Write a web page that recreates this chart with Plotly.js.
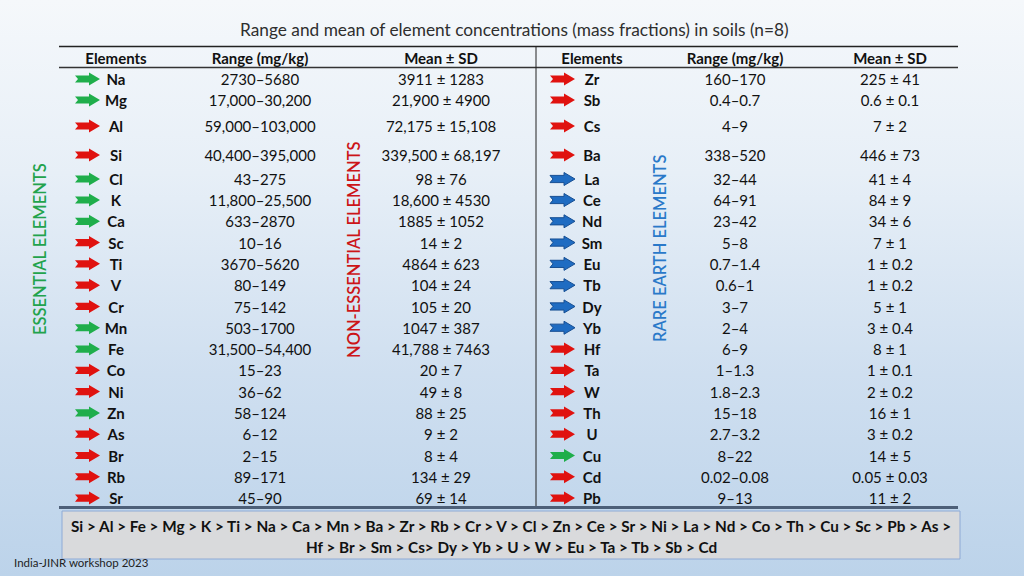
<!DOCTYPE html>
<html>
<head>
<meta charset="utf-8">
<script src="https://cdn.plot.ly/plotly-3.0.1.min.js"></script>
<style>
  html, body { margin: 0; padding: 0; }
  body { width: 1024px; height: 576px; overflow: hidden;
         background: linear-gradient(180deg, #f5f8fb 0%, #e7eff7 30%, #cfdff0 65%, #bcd3ea 100%); }
  #chart { width: 1024px; height: 576px; }
</style>
</head>
<body>
<div id="chart"></div>
<script>
// ---------------- DATA ----------------
const TITLE = 'Range and mean of element concentrations (mass fractions) in soils (n=8)';
const HEADERS = ['Elements', 'Range (mg/kg)', 'Mean ± SD'];

const LEFT_EL = ['Na','Mg','Al','Si','Cl','K','Ca','Sc','Ti','V','Cr','Mn','Fe','Co','Ni','Zn','As','Br','Rb','Sr'];
const LEFT_RANGE = ['2730–5680','17,000–30,200','59,000–103,000','40,400–395,000','43–275','11,800–25,500','633–2870','10–16','3670–5620','80–149','75–142','503–1700','31,500–54,400','15–23','36–62','58–124','6–12','2–15','89–171','45–90'];
const LEFT_MEAN = ['3911 ± 1283','21,900 ± 4900','72,175 ± 15,108','339,500 ± 68,197','98 ± 76','18,600 ± 4530','1885 ± 1052','14 ± 2','4864 ± 623','104 ± 24','105 ± 20','1047 ± 387','41,788 ± 7463','20 ± 7','49 ± 8','88 ± 25','9 ± 2','8 ± 4','134 ± 29','69 ± 14'];
const LEFT_CLASS = ['E','E','N','N','E','E','E','N','N','N','N','E','E','N','N','E','N','N','N','N'];

const RIGHT_EL = ['Zr','Sb','Cs','Ba','La','Ce','Nd','Sm','Eu','Tb','Dy','Yb','Hf','Ta','W','Th','U','Cu','Cd','Pb'];
const RIGHT_RANGE = ['160–170','0.4–0.7','4–9','338–520','32–44','64–91','23–42','5–8','0.7–1.4','0.6–1','3–7','2–4','6–9','1–1.3','1.8–2.3','15–18','2.7–3.2','8–22','0.02–0.08','9–13'];
const RIGHT_MEAN = ['225 ± 41','0.6 ± 0.1','7 ± 2','446 ± 73','41 ± 4','84 ± 9','34 ± 6','7 ± 1','1 ± 0.2','1 ± 0.2','5 ± 1','3 ± 0.4','8 ± 1','1 ± 0.1','2 ± 0.2','16 ± 1','3 ± 0.2','14 ± 5','0.05 ± 0.03','11 ± 2'];
const RIGHT_CLASS = ['N','N','N','N','R','R','R','R','R','R','R','R','N','N','N','N','N','E','N','N'];

const GROUP_LABELS = ['ESSENTIAL ELEMENTS', 'NON-ESSENTIAL ELEMENTS', 'RARE EARTH ELEMENTS'];
const ORDER_LINES = [
  'Si > Al > Fe > Mg > K > Ti > Na > Ca > Mn > Ba > Zr > Rb > Cr > V > Cl > Zn > Ce > Sr > Ni > La > Nd > Co > Th > Cu > Sc > Pb > As >',
  'Hf > Br > Sm > Cs> Dy > Yb > U > W > Eu > Ta > Tb > Sb > Cd'
];
const FOOTER = 'India-JINR workshop 2023';

// ---------------- LAYOUT / STYLE ----------------
const FONT = 'Lato, "Open Sans", sans-serif';
const CLASS_COLOR = { E: '#1fae4b', N: '#e0120f', R: '#1f6cc2' };
const CLASS_LINE  = { E: '#1fae4b', N: '#e0120f', R: '#174f93' };
const TEXT_COLOR = '#111111';
const TEXT_DY = 2.3; // text baseline correction

// row centre positions (pixel space, y axis reversed)
function rowY(i) {
  const first = [79, 100, 126, 155, 179];
  if (i < first.length) return first[i];
  return 200 + (i - 5) * 21.29;
}
const HEADER_Y = 58;
const COLS_LEFT  = { arrow: 75, el: 116, range: 260, mean: 441 };
const COLS_RIGHT = { arrow: 550, el: 592, range: 735, mean: 890 };

const traces = [];
function textTrace(xc, ys, texts, bold, size) {
  return {
    type: 'scatter', mode: 'text', x: ys.map(() => xc), y: ys.map(v => v + TEXT_DY), text: texts,
    textposition: 'middle center', cliponaxis: false, hoverinfo: 'skip', showlegend: false,
    textfont: { family: FONT, size: size || 15, color: TEXT_COLOR, weight: bold ? 700 : 400 }
  };
}
function addHalf(cols, els, ranges, means) {
  const ys = els.map((_, i) => rowY(i));
  traces.push(textTrace(cols.el, ys, els, true));
  traces.push(textTrace(cols.range, ys, ranges, false));
  traces.push(textTrace(cols.mean, ys, means, false));
  traces.push(textTrace(cols.el, [HEADER_Y], [HEADERS[0]], true));
  traces.push(textTrace(cols.range, [HEADER_Y], [HEADERS[1]], true));
  traces.push(textTrace(cols.mean, [HEADER_Y], [HEADERS[2]], true));
}
addHalf(COLS_LEFT, LEFT_EL, LEFT_RANGE, LEFT_MEAN);
addHalf(COLS_RIGHT, RIGHT_EL, RIGHT_RANGE, RIGHT_MEAN);

const shapes = [];
function arrowPath(x0, y) {
  const L = 25, headStart = 14, hh = 6.5, sh = 3.6, notch = 3;
  return `M ${x0},${y - sh} L ${x0 + headStart},${y - sh} L ${x0 + headStart},${y - hh} ` +
         `L ${x0 + L},${y} L ${x0 + headStart},${y + hh} L ${x0 + headStart},${y + sh} ` +
         `L ${x0},${y + sh} L ${x0 + notch},${y} Z`;
}
function addArrows(cols, classes) {
  classes.forEach((c, i) => {
    shapes.push({ type: 'path', xref: 'x', yref: 'y', path: arrowPath(cols.arrow, rowY(i)),
      fillcolor: CLASS_COLOR[c], line: { color: CLASS_LINE[c], width: c === 'R' ? 1 : 0 }, layer: 'above' });
  });
}
addArrows(COLS_LEFT, LEFT_CLASS);
addArrows(COLS_RIGHT, RIGHT_CLASS);

// table rules
shapes.push({ type: 'line', xref: 'x', yref: 'y', x0: 59, x1: 958, y0: 46.5, y1: 46.5, line: { color: '#222', width: 1.5 } });
shapes.push({ type: 'line', xref: 'x', yref: 'y', x0: 59, x1: 958, y0: 67.5, y1: 67.5, line: { color: '#333', width: 1.3 } });
shapes.push({ type: 'line', xref: 'x', yref: 'y', x0: 536, x1: 536, y0: 46.5, y1: 507, line: { color: '#222', width: 1 } });
// order box
shapes.push({ type: 'rect', xref: 'x', yref: 'y', x0: 62, x1: 960, y0: 511, y1: 559,
  fillcolor: '#d9dadc', line: { color: '#8eaad6', width: 1 }, layer: 'below' });
shapes.push({ type: 'line', xref: 'x', yref: 'y', x0: 59, x1: 958, y0: 507.5, y1: 507.5, line: { color: '#4d5f78', width: 3 } });

const annotations = [
  { text: TITLE, x: 514, y: 29, xref: 'x', yref: 'y', showarrow: false,
    font: { family: FONT, size: 17.3, color: '#2e2e2e', weight: 400 } },
  { text: GROUP_LABELS[0], x: 40, y: 249, xref: 'x', yref: 'y', showarrow: false, textangle: -90,
    font: { family: FONT, size: 16.5, color: '#22a34c', weight: 600 } },
  { text: GROUP_LABELS[1], x: 354, y: 250, xref: 'x', yref: 'y', showarrow: false, textangle: -90,
    font: { family: FONT, size: 16.5, color: '#cc1518', weight: 600 } },
  { text: GROUP_LABELS[2], x: 660, y: 249, xref: 'x', yref: 'y', showarrow: false, textangle: -90,
    font: { family: FONT, size: 16.5, color: '#2a79c9', weight: 600 } },
  { text: ORDER_LINES[0], x: 511, y: 526, xref: 'x', yref: 'y', showarrow: false,
    font: { family: FONT, size: 15.3, color: '#111', weight: 700 } },
  { text: ORDER_LINES[1], x: 511, y: 547, xref: 'x', yref: 'y', showarrow: false,
    font: { family: FONT, size: 15.3, color: '#111', weight: 700 } },
  { text: FOOTER, x: 12, y: 562, xref: 'x', yref: 'y', xanchor: 'left', showarrow: false,
    font: { family: FONT, size: 11.5, color: '#222' } }
];

const layout = {
  width: 1024, height: 576,
  margin: { l: 0, r: 0, t: 0, b: 0 },
  paper_bgcolor: 'rgba(0,0,0,0)', plot_bgcolor: 'rgba(0,0,0,0)',
  xaxis: { range: [0, 1024], visible: false, fixedrange: true },
  yaxis: { range: [576, 0], visible: false, fixedrange: true },
  shapes: shapes, annotations: annotations, showlegend: false
};
Plotly.newPlot('chart', traces, layout, { staticPlot: true, displayModeBar: false });
</script>
</body>
</html>
